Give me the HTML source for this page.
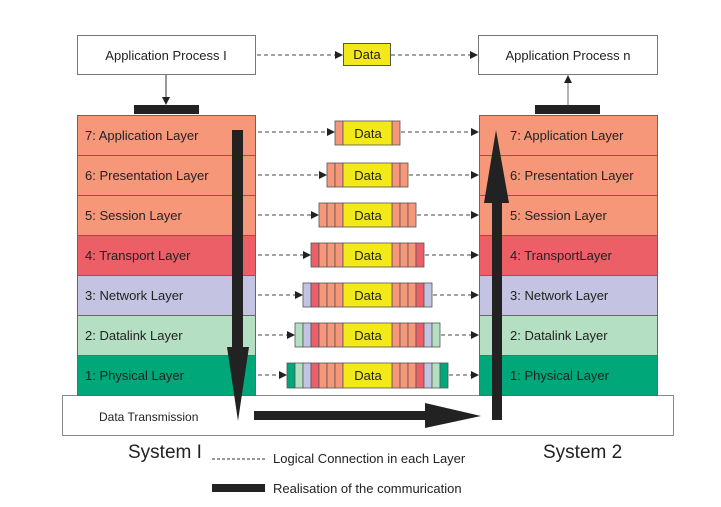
<!DOCTYPE html>
<html><head><meta charset="utf-8"><style>
html,body{margin:0;padding:0;background:#fff;width:721px;height:507px;overflow:hidden}
svg{display:block}
text{font-family:"Liberation Sans",sans-serif;fill:#222}
</style></head><body>
<svg width="721" height="507" viewBox="0 0 721 507" xmlns="http://www.w3.org/2000/svg">
<defs>
<marker id="ah" markerWidth="8" markerHeight="8" refX="7" refY="4" orient="auto" markerUnits="userSpaceOnUse"><path d="M0,0 L8,4 L0,8 z" fill="#222"/></marker>
</defs>
<!-- app process boxes -->
<rect x="77.5" y="35.5" width="178" height="39" fill="#fff" stroke="#777"/>
<text x="166" y="60" font-size="13" text-anchor="middle">Application Process I</text>
<rect x="478.5" y="35.5" width="179" height="39" fill="#fff" stroke="#777"/>
<text x="568" y="60" font-size="13" text-anchor="middle">Application Process n</text>
<line x1="166" y1="75" x2="166" y2="104" stroke="#333" marker-end="url(#ah)"/>
<line x1="568" y1="105" x2="568" y2="76" stroke="#666" marker-end="url(#ah)"/>
<rect x="134" y="105" width="65" height="9" fill="#222"/>
<rect x="535" y="105" width="65" height="9" fill="#222"/>
<line x1="257" y1="55" x2="342" y2="55" stroke="#444" stroke-dasharray="4,3" marker-end="url(#ah)"/>
<line x1="391" y1="55" x2="477" y2="55" stroke="#444" stroke-dasharray="4,3" marker-end="url(#ah)"/>
<rect x="343.5" y="43.5" width="47" height="22" fill="#f2e81a" stroke="#555"/>
<text x="367" y="59" font-size="13" text-anchor="middle">Data</text>

<!-- Data transmission box -->
<rect x="62.5" y="395.5" width="611" height="40" fill="#fff" stroke="#888"/>
<text x="99" y="421" font-size="12">Data Transmission</text>

<!-- left stack -->
<g stroke="#666">
<rect x="77.5" y="115.5" width="178" height="40" fill="#f7977a"/>
<rect x="77.5" y="155.5" width="178" height="40" fill="#f7977a"/>
<rect x="77.5" y="195.5" width="178" height="40" fill="#f7977a"/>
<rect x="77.5" y="235.5" width="178" height="40" fill="#ec5f67"/>
<rect x="77.5" y="275.5" width="178" height="40" fill="#c4c4e2"/>
<rect x="77.5" y="315.5" width="178" height="40" fill="#b4dfc2"/>
<rect x="77.5" y="355.5" width="178" height="40" fill="#00a879"/>
<rect x="479.5" y="115.5" width="178" height="40" fill="#f7977a"/>
<rect x="479.5" y="155.5" width="178" height="40" fill="#f7977a"/>
<rect x="479.5" y="195.5" width="178" height="40" fill="#f7977a"/>
<rect x="479.5" y="235.5" width="178" height="40" fill="#ec5f67"/>
<rect x="479.5" y="275.5" width="178" height="40" fill="#c4c4e2"/>
<rect x="479.5" y="315.5" width="178" height="40" fill="#b4dfc2"/>
<rect x="479.5" y="355.5" width="178" height="40" fill="#00a879"/>
</g>
<g font-size="13">
<text x="85" y="140">7: Application Layer</text>
<text x="85" y="180">6: Presentation Layer</text>
<text x="85" y="220">5: Session Layer</text>
<text x="85" y="260">4: Transport  Layer</text>
<text x="85" y="300">3: Network Layer</text>
<text x="85" y="340">2: Datalink Layer</text>
<text x="85" y="380">1: Physical Layer</text>
<text x="510" y="140">7: Application Layer</text>
<text x="510" y="180">6: Presentation Layer</text>
<text x="510" y="220">5: Session Layer</text>
<text x="510" y="260">4: TransportLayer</text>
<text x="510" y="300">3: Network Layer</text>
<text x="510" y="340">2: Datalink Layer</text>
<text x="510" y="380">1: Physical Layer</text>
</g>

<!-- dashed connectors -->
<g stroke="#444" stroke-dasharray="4,3">
<line x1="258" y1="132" x2="334" y2="132" marker-end="url(#ah)"/>
<line x1="401" y1="132" x2="478" y2="132" marker-end="url(#ah)"/>
<line x1="258" y1="175" x2="326" y2="175" marker-end="url(#ah)"/>
<line x1="409" y1="175" x2="478" y2="175" marker-end="url(#ah)"/>
<line x1="258" y1="215" x2="318" y2="215" marker-end="url(#ah)"/>
<line x1="417" y1="215" x2="478" y2="215" marker-end="url(#ah)"/>
<line x1="258" y1="255" x2="310" y2="255" marker-end="url(#ah)"/>
<line x1="425" y1="255" x2="478" y2="255" marker-end="url(#ah)"/>
<line x1="258" y1="295" x2="302" y2="295" marker-end="url(#ah)"/>
<line x1="433" y1="295" x2="478" y2="295" marker-end="url(#ah)"/>
<line x1="258" y1="335" x2="294" y2="335" marker-end="url(#ah)"/>
<line x1="441" y1="335" x2="478" y2="335" marker-end="url(#ah)"/>
<line x1="258" y1="375" x2="286" y2="375" marker-end="url(#ah)"/>
<line x1="449" y1="375" x2="478" y2="375" marker-end="url(#ah)"/>
</g>

<!-- packets -->
<g stroke="#555" stroke-width="0.8">
<!-- k1 -->
<rect x="335" y="121" width="8" height="24" fill="#f7977a"/><rect x="392" y="121" width="8" height="24" fill="#f7977a"/>
<rect x="343" y="121" width="49" height="24" fill="#f2e81a"/>
<!-- k2 -->
<rect x="327" y="163" width="8" height="24" fill="#f7977a"/><rect x="335" y="163" width="8" height="24" fill="#f7977a"/>
<rect x="392" y="163" width="8" height="24" fill="#f7977a"/><rect x="400" y="163" width="8" height="24" fill="#f7977a"/>
<rect x="343" y="163" width="49" height="24" fill="#f2e81a"/>
<!-- k3 -->
<rect x="319" y="203" width="8" height="24" fill="#f7977a"/><rect x="327" y="203" width="8" height="24" fill="#f7977a"/><rect x="335" y="203" width="8" height="24" fill="#f7977a"/>
<rect x="392" y="203" width="8" height="24" fill="#f7977a"/><rect x="400" y="203" width="8" height="24" fill="#f7977a"/><rect x="408" y="203" width="8" height="24" fill="#f7977a"/>
<rect x="343" y="203" width="49" height="24" fill="#f2e81a"/>
<!-- k4 -->
<rect x="311" y="243" width="8" height="24" fill="#ec5f67"/><rect x="319" y="243" width="8" height="24" fill="#f7977a"/><rect x="327" y="243" width="8" height="24" fill="#f7977a"/><rect x="335" y="243" width="8" height="24" fill="#f7977a"/>
<rect x="392" y="243" width="8" height="24" fill="#f7977a"/><rect x="400" y="243" width="8" height="24" fill="#f7977a"/><rect x="408" y="243" width="8" height="24" fill="#f7977a"/><rect x="416" y="243" width="8" height="24" fill="#ec5f67"/>
<rect x="343" y="243" width="49" height="24" fill="#f2e81a"/>
<!-- k5 -->
<rect x="303" y="283" width="8" height="24" fill="#c4c4e2"/><rect x="311" y="283" width="8" height="24" fill="#ec5f67"/><rect x="319" y="283" width="8" height="24" fill="#f7977a"/><rect x="327" y="283" width="8" height="24" fill="#f7977a"/><rect x="335" y="283" width="8" height="24" fill="#f7977a"/>
<rect x="392" y="283" width="8" height="24" fill="#f7977a"/><rect x="400" y="283" width="8" height="24" fill="#f7977a"/><rect x="408" y="283" width="8" height="24" fill="#f7977a"/><rect x="416" y="283" width="8" height="24" fill="#ec5f67"/><rect x="424" y="283" width="8" height="24" fill="#c4c4e2"/>
<rect x="343" y="283" width="49" height="24" fill="#f2e81a"/>
<!-- k6 -->
<rect x="295" y="323" width="8" height="24" fill="#b4dfc2"/><rect x="303" y="323" width="8" height="24" fill="#c4c4e2"/><rect x="311" y="323" width="8" height="24" fill="#ec5f67"/><rect x="319" y="323" width="8" height="24" fill="#f7977a"/><rect x="327" y="323" width="8" height="24" fill="#f7977a"/><rect x="335" y="323" width="8" height="24" fill="#f7977a"/>
<rect x="392" y="323" width="8" height="24" fill="#f7977a"/><rect x="400" y="323" width="8" height="24" fill="#f7977a"/><rect x="408" y="323" width="8" height="24" fill="#f7977a"/><rect x="416" y="323" width="8" height="24" fill="#ec5f67"/><rect x="424" y="323" width="8" height="24" fill="#c4c4e2"/><rect x="432" y="323" width="8" height="24" fill="#b4dfc2"/>
<rect x="343" y="323" width="49" height="24" fill="#f2e81a"/>
<!-- k7 -->
<rect x="287" y="363" width="8" height="25" fill="#00a879"/><rect x="295" y="363" width="8" height="25" fill="#b4dfc2"/><rect x="303" y="363" width="8" height="25" fill="#c4c4e2"/><rect x="311" y="363" width="8" height="25" fill="#ec5f67"/><rect x="319" y="363" width="8" height="25" fill="#f7977a"/><rect x="327" y="363" width="8" height="25" fill="#f7977a"/><rect x="335" y="363" width="8" height="25" fill="#f7977a"/>
<rect x="392" y="363" width="8" height="25" fill="#f7977a"/><rect x="400" y="363" width="8" height="25" fill="#f7977a"/><rect x="408" y="363" width="8" height="25" fill="#f7977a"/><rect x="416" y="363" width="8" height="25" fill="#ec5f67"/><rect x="424" y="363" width="8" height="25" fill="#c4c4e2"/><rect x="432" y="363" width="8" height="25" fill="#b4dfc2"/><rect x="440" y="363" width="8" height="25" fill="#00a879"/>
<rect x="343" y="363" width="49" height="25" fill="#f2e81a"/>
</g>
<g font-size="13" text-anchor="middle">
<text x="368" y="138">Data</text>
<text x="368" y="180">Data</text>
<text x="368" y="220">Data</text>
<text x="368" y="260">Data</text>
<text x="368" y="300">Data</text>
<text x="368" y="340">Data</text>
<text x="368" y="380">Data</text>
</g>

<!-- thick arrows -->
<rect x="232" y="130" width="11" height="220" fill="#222"/>
<polygon points="227,347 249,347 238,421" fill="#222"/>
<rect x="254" y="411" width="172" height="9" fill="#222"/>
<polygon points="425,403 425,428 481,416" fill="#222"/>
<rect x="492" y="200" width="10" height="220" fill="#222"/>
<polygon points="484,203 509,203 496,130" fill="#222"/>

<!-- legend -->
<text x="128" y="458" font-size="19">System I</text>
<text x="543" y="458" font-size="19">System 2</text>
<line x1="212" y1="459" x2="265" y2="459" stroke="#333" stroke-dasharray="3,2"/>
<text x="273" y="463" font-size="13">Logical Connection  in  each Layer</text>
<rect x="212" y="484" width="53" height="8" fill="#222"/>
<text x="273" y="493" font-size="13">Realisation  of the  commurication</text>
</svg>
</body></html>
